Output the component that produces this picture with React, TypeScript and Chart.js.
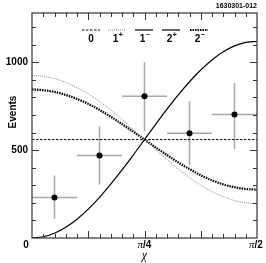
import React, { useEffect, useRef } from "react";
import { Chart, registerables } from "chart.js";

Chart.register(...registerables);

const PI = Math.PI;

// Curve sampling points, in units of pi (chi from 0 to pi/2)
const curveChiPi = [0, 0.025, 0.05, 0.075, 0.1, 0.125, 0.15, 0.175, 0.2, 0.225, 0.25, 0.275, 0.3, 0.325, 0.35, 0.375, 0.4, 0.425, 0.45, 0.475, 0.5];
const spin0 = [560, 560, 560, 560, 560, 560, 560, 560, 560, 560, 560, 560, 560, 560, 560, 560, 560, 560, 560, 560, 560];
const spin1plus = [925, 920, 907, 885, 855, 820, 777, 728, 674, 618, 560, 502, 446, 392, 343, 300, 264, 235, 213, 200, 195];
const spin1minus2plus = [0, 7, 27, 61, 107, 164, 231, 306, 387, 472, 560, 648, 733, 814, 889, 956, 1013, 1059, 1093, 1113, 1118];
const spin2minus = [845, 841, 831, 814, 791, 763, 729, 690, 648, 605, 560, 515, 472, 430, 392, 357, 328, 305, 289, 279, 275];

// Data points
const binCentersPi = [0.05, 0.15, 0.25, 0.35, 0.45];
const binHalfWidthPi = 0.05;
const events = [230, 470, 806, 596, 702];
const errUp = [126, 165, 194, 182, 180];
const errDown = [121, 166, 198, 183, 197];

// Axis
const yMax = 1280;
const yTickLabels = [500, 1000];
const legendLabels = [
  { base: "0", sup: "" },
  { base: "1", sup: "+" },
  { base: "1", sup: "\u2212" },
  { base: "2", sup: "+" },
  { base: "2", sup: "\u2212" },
];

const pts = (ys: number[]) => curveChiPi.map((c, i) => ({ x: c * PI, y: ys[i] }));

export default function App() {
  const ref = useRef<HTMLCanvasElement | null>(null);
  useEffect(() => {
    document.body.style.margin = "0";
    const canvas = ref.current!;
    const SANS = "'Liberation Sans', Arial, sans-serif";
    const SERIF = "'Liberation Serif', 'Times New Roman', serif";

    const decor = {
      id: "decor",
      beforeDatasetsDraw(chart: any) {
        const ctx = chart.ctx;
        const xs = chart.scales.x;
        const ys = chart.scales.y;
        ctx.save();
        ctx.strokeStyle = "#a8a8a8";
        ctx.lineWidth = 1.5;
        for (let i = 0; i < events.length; i++) {
          const cx = xs.getPixelForValue(binCentersPi[i] * PI);
          const x0 = xs.getPixelForValue((binCentersPi[i] - binHalfWidthPi) * PI);
          const x1 = xs.getPixelForValue((binCentersPi[i] + binHalfWidthPi) * PI);
          const cy = ys.getPixelForValue(events[i]);
          const yT = ys.getPixelForValue(events[i] + errUp[i]);
          const yB = ys.getPixelForValue(events[i] - errDown[i]);
          ctx.beginPath();
          ctx.moveTo(x0, cy);
          ctx.lineTo(x1, cy);
          ctx.moveTo(cx, yT);
          ctx.lineTo(cx, yB);
          ctx.stroke();
        }
        ctx.restore();
      },
      afterDatasetsDraw(chart: any) {
        const ctx = chart.ctx;
        const xs = chart.scales.x;
        const ys = chart.scales.y;
        const a = chart.chartArea;
        ctx.save();
        // points
        ctx.fillStyle = "#000";
        for (let i = 0; i < events.length; i++) {
          ctx.beginPath();
          ctx.arc(xs.getPixelForValue(binCentersPi[i] * PI), ys.getPixelForValue(events[i]), 3, 0, 2 * PI);
          ctx.fill();
        }
        // frame
        ctx.strokeStyle = "#333";
        ctx.lineWidth = 1.2;
        ctx.strokeRect(a.left, a.top, a.right - a.left, a.bottom - a.top);
        // ticks
        ctx.lineWidth = 1;
        ctx.beginPath();
        for (let v = 100; v < yMax; v += 100) {
          const y = Math.round(ys.getPixelForValue(v)) + 0.5;
          const len = v % 500 === 0 ? 7 : 4;
          ctx.moveTo(a.left, y);
          ctx.lineTo(a.left + len, y);
          ctx.moveTo(a.right, y);
          ctx.lineTo(a.right - len, y);
        }
        for (let k = 1; k < 20; k++) {
          const x = Math.round(xs.getPixelForValue((k * PI) / 40)) + 0.5;
          const len = k % 5 === 0 ? 7 : 4;
          ctx.moveTo(x, a.bottom);
          ctx.lineTo(x, a.bottom - len);
          ctx.moveTo(x, a.top);
          ctx.lineTo(x, a.top + len);
        }
        ctx.stroke();

        // text
        ctx.fillStyle = "#000";
        ctx.font = `bold 7px ${SANS}`;
        ctx.textAlign = "right";
        ctx.textBaseline = "middle";
        ctx.fillText("1630301-012", 257, 6);

        ctx.font = `bold 10px ${SANS}`;
        for (const v of yTickLabels) {
          ctx.fillText(String(v), 28, ys.getPixelForValue(v));
        }
        ctx.textAlign = "center";
        ctx.fillText("0", 26, 245);

        const drawPi = (label: string, cx: number) => {
          ctx.font = `italic 11px ${SERIF}`;
          const w1 = ctx.measureText("\u03c0").width;
          ctx.font = `bold 10px ${SANS}`;
          const w2 = ctx.measureText(label).width;
          const start = cx - (w1 + w2) / 2;
          ctx.textAlign = "left";
          ctx.font = `italic 11px ${SERIF}`;
          ctx.fillText("\u03c0", start, 245);
          ctx.font = `bold 10px ${SANS}`;
          ctx.fillText(label, start + w1, 245);
        };
        drawPi("/4", xs.getPixelForValue(PI / 4));
        drawPi("/2", 256);

        ctx.font = `italic 12px ${SERIF}`;
        ctx.textAlign = "center";
        ctx.fillText("\u03c7", xs.getPixelForValue(PI / 4), 256);

        ctx.save();
        ctx.translate(13, 112);
        ctx.rotate(-PI / 2);
        ctx.font = `bold 10px ${SANS}`;
        ctx.textAlign = "center";
        ctx.fillText("Events", 0, 0);
        ctx.restore();

        // legend
        const centers = [91, 117, 144, 171, 199];
        const styles = [
          { dash: [2.5, 1.5], w: 1, c: "#000" },
          { dash: [1, 1], w: 1, c: "#888" },
          { dash: [], w: 1.2, c: "#000" },
          { dash: [], w: 1.2, c: "#000" },
          { dash: [1.5, 1], w: 2, c: "#000" },
        ];
        for (let i = 0; i < 5; i++) {
          const cx = centers[i];
          const s = styles[i];
          ctx.beginPath();
          ctx.setLineDash(s.dash);
          ctx.lineWidth = s.w;
          ctx.strokeStyle = s.c;
          ctx.moveTo(cx - 9, 30);
          ctx.lineTo(cx + 9, 30);
          ctx.stroke();
          ctx.setLineDash([]);
          const lab = legendLabels[i];
          ctx.font = `bold 10px ${SANS}`;
          const w = ctx.measureText(lab.base).width;
          ctx.textAlign = "left";
          ctx.textBaseline = "middle";
          ctx.fillText(lab.base, cx - w / 2 - (lab.sup ? 1.5 : 0), 39);
          if (lab.sup) {
            ctx.font = `bold 7px ${SANS}`;
            ctx.fillText(lab.sup, cx + w / 2 - 1, 35);
          }
        }
        ctx.restore();
      },
    };

    const chart = new Chart(canvas, {
      type: "line",
      data: {
        datasets: [
          { data: pts(spin0), borderColor: "#000", borderWidth: 1, borderDash: [2.5, 1.5], pointRadius: 0, tension: 0 },
          { data: pts(spin1plus), borderColor: "#8a8a8a", borderWidth: 1, borderDash: [1, 1], pointRadius: 0, cubicInterpolationMode: "monotone" },
          { data: pts(spin1minus2plus), borderColor: "#000", borderWidth: 1.2, pointRadius: 0, cubicInterpolationMode: "monotone" },
          { data: pts(spin2minus), borderColor: "#000", borderWidth: 2.2, borderDash: [1.5, 1], pointRadius: 0, cubicInterpolationMode: "monotone" },
        ],
      },
      options: {
        responsive: false,
        animation: false,
        devicePixelRatio: 1,
        layout: { padding: { left: 32, right: 9, top: 13, bottom: 25 } },
        scales: {
          x: { type: "linear", min: 0, max: PI / 2, display: false },
          y: { type: "linear", min: 0, max: yMax, display: false },
        },
        plugins: { legend: { display: false }, tooltip: { enabled: false } },
      },
      plugins: [decor],
    } as any);
    return () => chart.destroy();
  }, []);
  return <canvas ref={ref} width={266} height={263} style={{ display: "block" }} />;
}
